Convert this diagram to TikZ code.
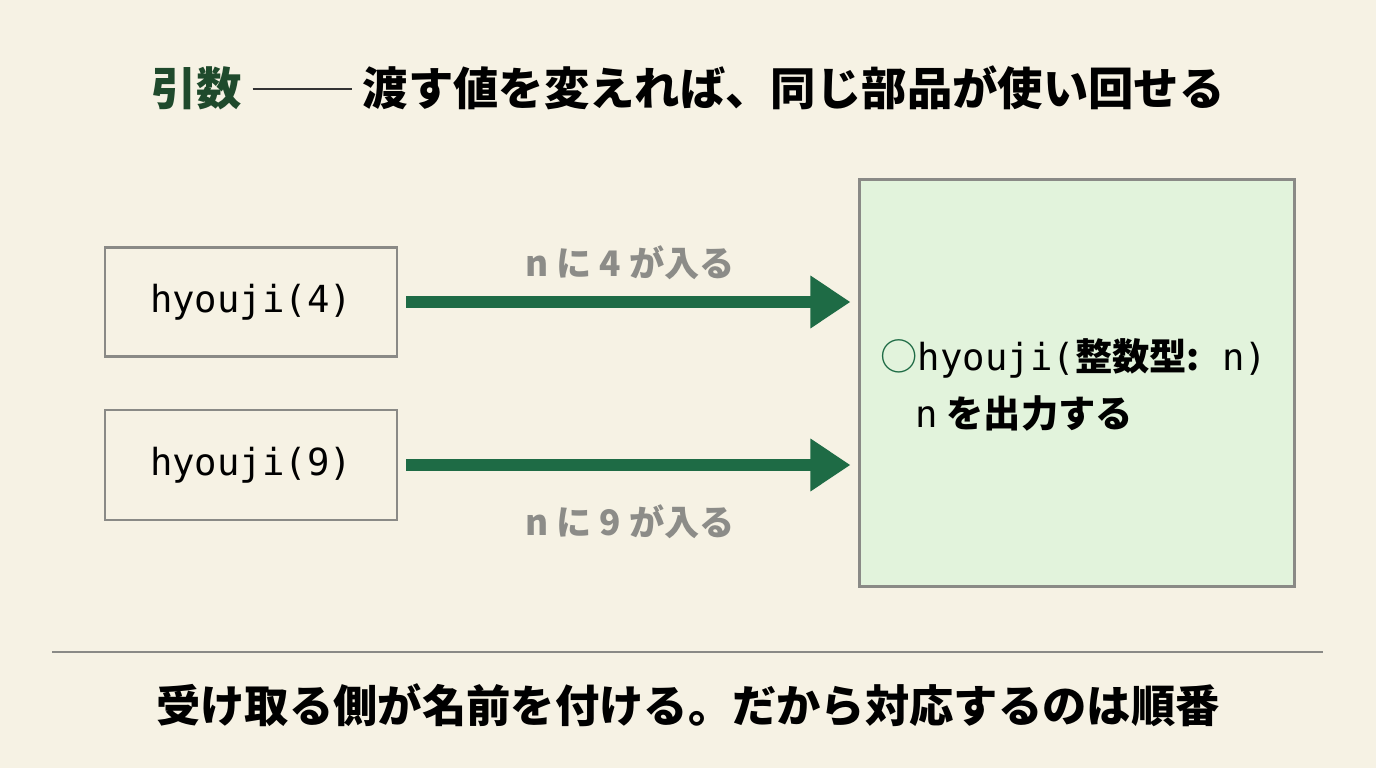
\documentclass[tikz,border=0pt]{standalone}
\usepackage{fontspec}
\setmainfont{Noto Sans CJK JP}
\setmonofont{DejaVu Sans Mono}
\usetikzlibrary{arrows.meta,positioning}
\definecolor{bgc}{HTML}{F6F2E4}
\definecolor{dgreen}{HTML}{1E6B45}
\definecolor{tgreen}{HTML}{1F4A2C}
\definecolor{lgreen}{HTML}{E2F3DC}
\definecolor{bord}{HTML}{8A8A86}
\definecolor{lab}{HTML}{8C8C88}
\begin{document}
\begin{tikzpicture}
[
x=0.01cm, y=-0.01cm,
block/.style = {draw=bord, thick, rectangle, font=\ttfamily\fontsize{10.6}{12}\selectfont},
arr/.style = {dgreen, line width=1.2mm, shorten >=0.08cm, -{Triangle[length=4mm,width=5mm]}},
lbl/.style = {text=lab, font=\bfseries\fontsize{10}{12}\selectfont},
]
\fill[bgc] (0,0) rectangle (1376,768);
% title
\node at (688,88)[font=\bfseries\fontsize{12.9}{15}\selectfont] (title) {\textcolor{tgreen}{引数}\ \textcolor{black!80}{\rule[0.35em]{2.2em}{0.4pt}}\ 渡す値を変えれば、同じ部品が使い回せる};
% callers
\node at (251,302)[block,minimum width=2.92cm,minimum height=1.09cm] (call4) {hyouji(4)};
\node at (251,465)[block,minimum width=2.92cm,minimum height=1.1cm] (call9) {hyouji(9)};
% function
\node at (1077,383)[draw=bord,thick,fill=lgreen,minimum width=4.34cm,minimum height=4.07cm] (func) {};
\node at (880,358)[anchor=west,inner sep=0pt,font=\fontsize{10.6}{12}\selectfont] (head) {\textcolor{dgreen}{○}\texttt{hyouji(}\textbf{整数型:}\texttt{ n)}};
\node at (915,413)[anchor=west,inner sep=0pt,font=\fontsize{10.6}{12}\selectfont] (body) {\texttt{n} \textbf{を出力する}};
% arrows
\draw[arr] (call4.east) ++(8,0) coordinate (a4) -- (a4 -| func.west);
\draw[arr] (call9.east) ++(8,0) coordinate (a9) -- (a9 -| func.west);
\node at (630,263)[lbl] (l4) {n に 4 が入る};
\node at (630,522)[lbl] (l9) {n に 9 が入る};
% footer
\coordinate (r1) at (52,652);
\coordinate (r2) at (1323,652);
\draw[bord,thick] (r1) -- (r2);
\node at (688,705)[font=\bfseries\fontsize{12.6}{15}\selectfont] (foot) {受け取る側が名前を付ける。だから対応するのは順番};
\end{tikzpicture}
\end{document}
